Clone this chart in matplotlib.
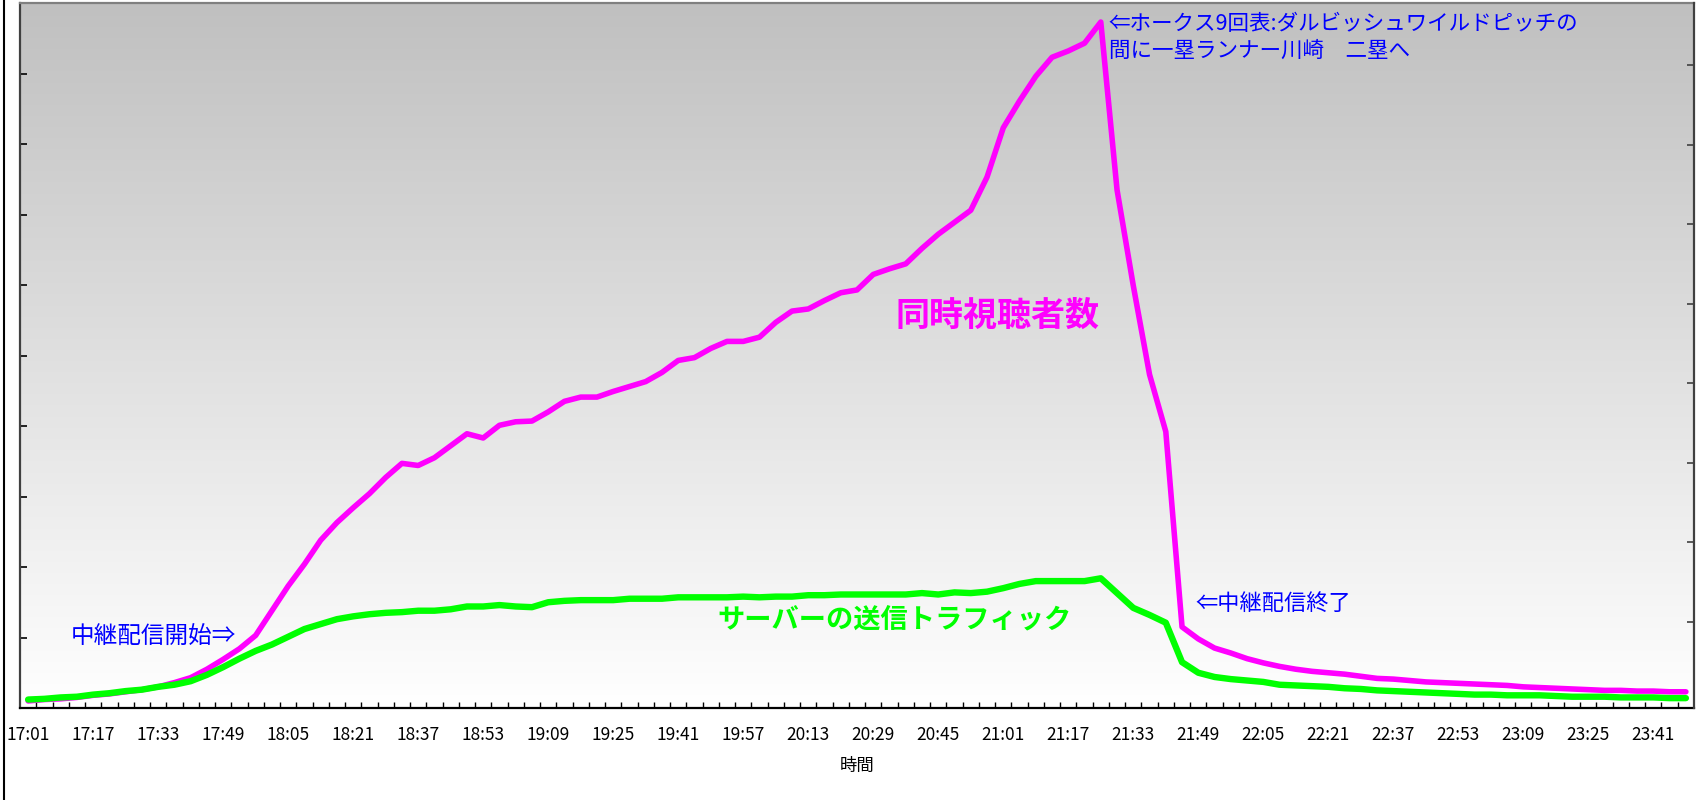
import matplotlib.pyplot as plt
import numpy as np
import pandas as pd
from matplotlib.colors import LinearSegmentedColormap
from matplotlib.lines import Line2D

plt.rcParams['font.family'] = ['Noto Sans CJK JP', 'DejaVu Sans']

# 4-minute samples, 17:01 .. 23:49
times = pd.date_range('2000-01-01 17:01', '2000-01-01 23:49', freq='4min').strftime('%H:%M').tolist()
tick_labels = times[::4]

# concurrent viewers (relative units, left axis 0..10)
viewers = [
    0.10, 0.12, 0.13, 0.15, 0.18, 0.20, 0.23, 0.26, 0.30, 0.36,
    0.43, 0.55, 0.69, 0.84, 1.03, 1.38, 1.73, 2.04, 2.38, 2.63,
    2.84, 3.04, 3.27, 3.47, 3.44, 3.55, 3.72, 3.89, 3.83, 4.01,
    4.06, 4.07, 4.20, 4.35, 4.41, 4.41, 4.49, 4.56, 4.63, 4.76,
    4.93, 4.97, 5.10, 5.20, 5.20, 5.26, 5.47, 5.63, 5.66, 5.78,
    5.89, 5.93, 6.15, 6.23, 6.30, 6.52, 6.72, 6.89, 7.06, 7.53,
    8.23, 8.61, 8.96, 9.23, 9.32, 9.43, 9.73, 7.35, 5.99, 4.73,
    3.92, 1.15, 0.98, 0.85, 0.78, 0.70, 0.64, 0.59, 0.55, 0.52,
    0.50, 0.48, 0.45, 0.42, 0.41, 0.39, 0.37, 0.36, 0.35, 0.34,
    0.33, 0.32, 0.30, 0.29, 0.28, 0.27, 0.26, 0.25, 0.25, 0.24,
    0.24, 0.23, 0.23,
]

# server send traffic (same relative units)
traffic = [
    0.12, 0.13, 0.15, 0.16, 0.19, 0.21, 0.24, 0.26, 0.30, 0.33,
    0.38, 0.47, 0.58, 0.70, 0.81, 0.90, 1.01, 1.12, 1.19, 1.26,
    1.30, 1.33, 1.35, 1.36, 1.38, 1.38, 1.40, 1.44, 1.44, 1.46,
    1.44, 1.43, 1.50, 1.52, 1.53, 1.53, 1.53, 1.55, 1.55, 1.55,
    1.57, 1.57, 1.57, 1.57, 1.58, 1.57, 1.58, 1.58, 1.60, 1.60,
    1.61, 1.61, 1.61, 1.61, 1.61, 1.63, 1.61, 1.64, 1.63, 1.65,
    1.70, 1.76, 1.80, 1.80, 1.80, 1.80, 1.84, 1.63, 1.42, 1.32,
    1.21, 0.65, 0.50, 0.44, 0.41, 0.39, 0.37, 0.33, 0.32, 0.31,
    0.30, 0.28, 0.27, 0.25, 0.24, 0.23, 0.22, 0.21, 0.20, 0.19,
    0.19, 0.18, 0.18, 0.18, 0.17, 0.16, 0.16, 0.16, 0.15, 0.15,
    0.15, 0.14, 0.14,
]

W, H = 1701, 800
fig = plt.figure(figsize=(W / 100, H / 100), dpi=100)
ax = fig.add_axes([20 / W, 92 / H, 1674 / W, 705 / H])

x = np.arange(len(times))
xmin, xmax = -0.5, len(times) - 0.5
ymin, ymax = 0, 10

# gray -> white gradient plot background
bg = LinearSegmentedColormap.from_list('bg', ['#ffffff', '#c0c0c0'])
ax.imshow(np.linspace(1, 0, 256).reshape(-1, 1), cmap=bg, aspect='auto',
          extent=(xmin, xmax, ymin, ymax), origin='upper', zorder=0)

ax.plot(x, viewers, color='#ff00ff', lw=4.0, solid_joinstyle='round',
        solid_capstyle='round', zorder=3)
ax.plot(x, traffic, color='#00ff00', lw=4.6, solid_joinstyle='round',
        solid_capstyle='round', zorder=4)

ax.set_xlim(xmin, xmax)
ax.set_ylim(ymin, ymax)

# category axis: labels every 16 min, ticks between categories
ax.set_xticks(x[::4])
ax.set_xticklabels(tick_labels, fontsize=12.5)
ax.tick_params(axis='x', which='major', length=0, pad=13)
ax.set_xticks(np.arange(len(times) - 1) + 0.5, minor=True)
ax.tick_params(axis='x', which='minor', direction='in', length=4, width=1, color='black')
ax.set_yticks(range(1, 10))
ax.set_yticklabels([])
ax.tick_params(axis='y', direction='in', length=5, width=1.2, color='black')
ax.set_xlabel('時間', fontsize=12.5, labelpad=9)

ax.spines['left'].set_color('#404040')
ax.spines['left'].set_linewidth(1.6)
ax.spines['top'].set_color('#808080')
ax.spines['top'].set_linewidth(1.6)
ax.spines['bottom'].set_color('black')
ax.spines['bottom'].set_linewidth(1.6)
ax.spines['right'].set_visible(False)

# secondary axis, ticks only
ax2 = ax.twinx()
ax2.set_ylim(-1.081, 7.779)
ax2.set_yticks(range(8))
ax2.set_yticklabels([])
ax2.tick_params(axis='y', direction='in', length=5, width=1.2, color='#404040')
for s in ['left', 'top', 'bottom']:
    ax2.spines[s].set_visible(False)
ax2.spines['right'].set_color('#404040')
ax2.spines['right'].set_linewidth(1.6)

blue = '#0000ff'
ax.text(66.5, 9.70, '⇐ホークス9回表:ダルビッシュワイルドピッチの', color=blue,
        fontsize=15.5, ha='left', va='center', zorder=5)
ax.text(66.5, 9.32, '間に一塁ランナー川崎\u3000二塁へ', color=blue,
        fontsize=15.5, ha='left', va='center', zorder=5)
ax.text(2.6, 1.00, '中継配信開始⇒', color=blue, fontsize=17,
        ha='left', va='center', zorder=5)
ax.text(71.8, 1.49, '⇐中継配信終了', color=blue, fontsize=16,
        ha='left', va='center', zorder=5)
ax.text(53.35, 5.57, '同時視聴者数', color='#ff00ff', fontsize=24.5,
        fontweight='bold', ha='left', va='center', zorder=5)
ax.text(42.4, 1.26, 'サーバーの送信トラフィック', color='#00ff00', fontsize=19.6,
        fontweight='bold', ha='left', va='center', zorder=5)

# outer frame line on the left edge
fig.add_artist(Line2D([3.5 / W, 3.5 / W], [0, 1], transform=fig.transFigure,
                      color='black', lw=1.5))

fig.savefig('out.png', dpi=100)
